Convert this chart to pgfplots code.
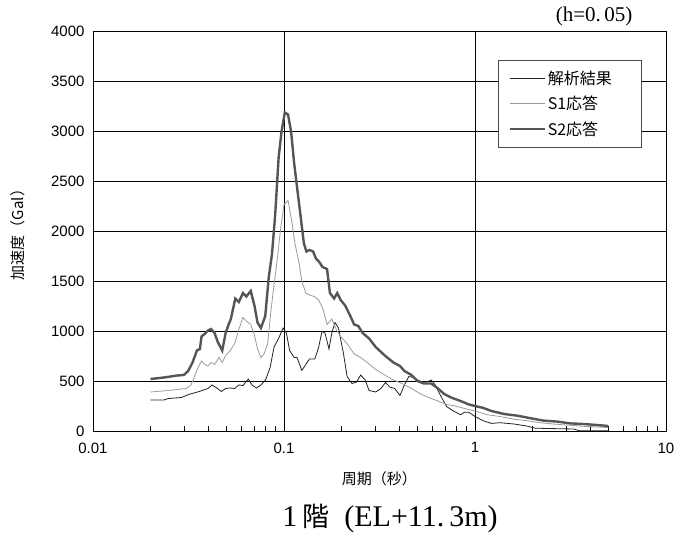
\documentclass[border=0pt]{standalone}
\usepackage{pgfplots}
\pgfplotsset{compat=1.18}
\usepackage{fontspec}
\setmainfont{Liberation Sans}
\newfontfamily\cjk{Noto Sans CJK JP}
\newfontfamily\serif{Liberation Serif}
\definecolor{sTwo}{HTML}{555555}
\definecolor{sOne}{HTML}{9A9A9A}
\definecolor{ana}{HTML}{222222}
\begin{document}
\begin{tikzpicture}
\useasboundingbox (-93pt,-116pt) rectangle (601pt,431pt);
\begin{axis}[
  at={(0,0)}, anchor=south west,
  scale only axis, width=573pt, height=400pt,
  xmode=log, xmin=0.01, xmax=10, ymin=0, ymax=4000,
  xtick={0.01,0.1,1,10}, xticklabels={0.01,0.1,1,10},
  ytick={0,500,...,4000},
  yticklabel style={/pgf/number format/1000 sep={}, font=\fontsize{15}{15}\selectfont, xshift=-5pt},
  xticklabel style={font=\fontsize{15}{15}\selectfont, yshift=-8pt},
  /pgf/number format/assume math mode=true,
  tick pos=left, tick align=inside,
  major tick length=0pt, minor tick length=5pt,
  ytick style={draw=none},
  xmajorgrids, ymajorgrids,
  grid style={black, line width=0.8pt},
  axis line style={black, line width=0.8pt},
  minor tick style={black, line width=0.6pt},
  xlabel={\cjk 周期（秒）}, ylabel={\cjk 加速度（Gal）},
  xlabel style={font=\fontsize{15}{15}\selectfont, at={(axis description cs:0.5,0)}, anchor=center, yshift=-48pt},
  ylabel style={font=\fontsize{15}{15}\selectfont, at={(axis description cs:0,0.5)}, anchor=center, yshift=75pt},
  legend style={at={(0.707,0.9275)}, anchor=north west, draw=black!70, fill=white,
    line width=0.6pt, font=\cjk\fontsize{16}{16}\selectfont,
    inner xsep=10pt, inner ysep=9pt, row sep=6pt, cells={anchor=west, text width=81pt}},
  legend image code/.code={\draw[#1] (0pt,0pt) -- (35pt,0pt);},
]
\addplot[ana, line width=0.8pt] coordinates {
(0.02,310)(0.0235,310)(0.0248,325)(0.029,335)(0.0323,370)(0.036,395)(0.04,425)(0.042,460)(0.0445,430)(0.047,395)(0.0495,425)(0.0523,430)(0.0552,425)(0.058,460)(0.061,455)(0.065,520)(0.068,460)(0.0718,430)(0.0757,460)(0.08,510)(0.0845,630)(0.0887,840)(0.0937,925)(0.099,1030)(0.103,980)(0.107,805)(0.113,735)(0.117,735)(0.124,605)(0.13,665)(0.136,720)(0.145,720)(0.152,840)(0.158,995)(0.164,980)(0.172,820)(0.178,980)(0.185,1085)(0.193,1030)(0.205,770)(0.214,545)(0.227,475)(0.24,490)(0.252,560)(0.266,510)(0.279,405)(0.302,390)(0.322,425)(0.34,485)(0.358,440)(0.38,425)(0.405,355)(0.427,460)(0.45,545)(0.475,535)(0.5,510)(0.53,490)(0.56,490)(0.59,510)(0.62,460)(0.66,355)(0.71,245)(0.77,200)(0.84,163)(0.88,187)(0.93,187)(1.0,145)(1.1,104)(1.22,76)(1.35,83)(1.6,70)(1.86,50)(2.07,28)(2.56,24)(3.3,20)(3.5,3)(5.0,3)
};
\addlegendentry{解析結果}
\addplot[sOne, line width=0.8pt] coordinates {
(0.02,390)(0.0248,405)(0.0307,425)(0.0326,460)(0.034,545)(0.0354,630)(0.037,700)(0.0384,665)(0.04,650)(0.0415,685)(0.0433,665)(0.0457,735)(0.0475,685)(0.0495,755)(0.0523,805)(0.0552,875)(0.058,1015)(0.061,1135)(0.0635,1100)(0.067,1065)(0.07,960)(0.0727,820)(0.0757,735)(0.0786,770)(0.0822,875)(0.0853,1190)(0.0887,1465)(0.0925,1740)(0.096,2020)(0.1,2265)(0.105,2305)(0.11,2090)(0.114,1880)(0.12,1675)(0.124,1500)(0.13,1380)(0.136,1360)(0.144,1345)(0.152,1310)(0.16,1220)(0.168,1065)(0.178,1120)(0.188,1015)(0.198,945)(0.214,875)(0.233,770)(0.252,735)(0.273,685)(0.302,615)(0.337,560)(0.374,510)(0.415,475)(0.465,425)(0.52,370)(0.57,335)(0.64,300)(0.71,265)(0.79,250)(0.88,225)(1.0,200)(1.16,163)(1.35,145)(1.6,118)(1.86,104)(2.18,83)(2.56,70)(3.0,60)(3.5,50)(4.1,42)(5.0,35)
};
\addlegendentry{S1応答}
\addplot[sTwo, line width=2.4pt] coordinates {
(0.02,520)(0.0235,535)(0.0276,555)(0.0299,560)(0.0315,600)(0.0332,685)(0.035,805)(0.0363,820)(0.037,945)(0.0384,970)(0.04,1005)(0.0415,1020)(0.0433,980)(0.045,890)(0.0475,805)(0.0495,980)(0.0513,1065)(0.0527,1120)(0.0556,1325)(0.058,1290)(0.061,1380)(0.0635,1345)(0.067,1400)(0.07,1255)(0.0727,1085)(0.0757,1030)(0.0798,1150)(0.0832,1535)(0.0866,1775)(0.0899,2160)(0.0937,2730)(0.097,2990)(0.101,3185)(0.105,3165)(0.109,2990)(0.113,2680)(0.117,2440)(0.122,2160)(0.127,1880)(0.131,1795)(0.136,1810)(0.142,1795)(0.147,1725)(0.153,1690)(0.159,1640)(0.168,1620)(0.174,1380)(0.183,1325)(0.19,1380)(0.198,1310)(0.209,1255)(0.22,1170)(0.233,1065)(0.245,1050)(0.258,980)(0.279,925)(0.302,840)(0.337,755)(0.374,685)(0.405,650)(0.427,600)(0.465,560)(0.5,500)(0.54,475)(0.59,475)(0.64,425)(0.69,370)(0.75,335)(0.84,300)(0.93,265)(1.0,250)(1.1,232)(1.22,200)(1.42,170)(1.67,153)(1.95,128)(2.28,104)(2.7,94)(3.15,76)(3.7,70)(4.35,60)(4.98,50)
};
\addlegendentry{S2応答}
\end{axis}
\node[anchor=east, font=\serif\fontsize{21}{21}\selectfont] at (543pt,415pt) {(h=0.\,05)};
\node[anchor=center, font=\serif\fontsize{30}{30}\selectfont] at (297pt,-88pt) {1\,{\cjk\fontsize{27}{27}\selectfont 階}\ \ (EL+11.\,3m)};
\end{tikzpicture}
\end{document}
